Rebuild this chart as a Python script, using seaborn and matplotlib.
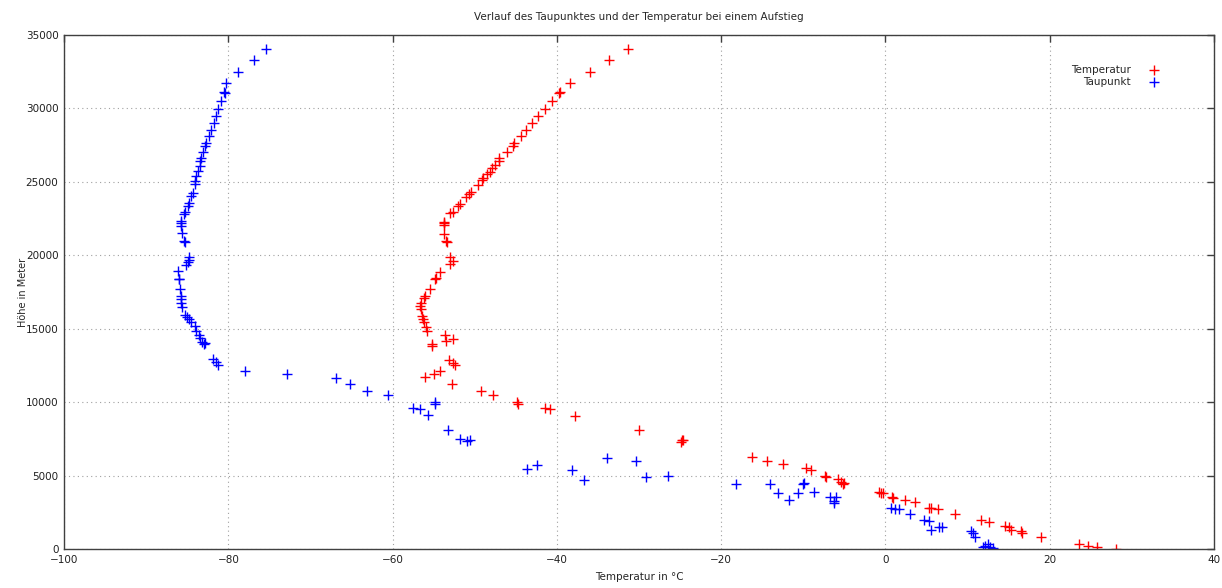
"""Verlauf von Taupunkt und Temperatur bei einem Ballonaufstieg."""

import matplotlib

matplotlib.use("Agg")

import matplotlib.pyplot as plt
import pandas as pd
import seaborn as sns

# Temperatur (rot): Hoehe in m, Temperatur in degC
TEMP_HEIGHT = [
    34045, 33296, 32479, 31750, 31137, 31049, 30477, 29960, 29456, 28979,
    28550, 28094, 27645, 27460, 27004, 26596, 26440, 26167, 25963, 25670,
    25555, 25234, 25125, 24785, 24308, 24192, 23968, 23532, 23396, 22987,
    22878, 22306, 22197, 22082, 21469, 21013, 20944, 19923, 19631, 19426,
    18861, 18473, 18405, 17744, 17247, 17132, 16791, 16587, 16382, 15885,
    15702, 15477, 15157, 14884, 14591, 14204, 14319, 13979, 13843, 12889,
    12706, 12569, 12161, 11936, 11711, 11235, 10779, 10506, 10009, 9893,
    9601, 9553, 9097, 8123, 7327, 7442, 7442, 6251, 6012, 5808,
    5556, 5400, 5011, 4943, 4766, 4562, 4426, 4494, 3902, 3854,
    3813, 3541, 3473, 3357, 3200, 2833, 2792, 2724, 2383, 1995,
    1838, 1607, 1539, 1314, 1266, 1089, 858, 361, 245, 136,
    54,
]
TEMP_VALUE = [
    -31.4, -33.6, -36.0, -38.4, -39.6, -39.7, -40.6, -41.5, -42.3, -43.0,
    -43.8, -44.4, -45.2, -45.4, -46.1, -47.0, -47.1, -47.5, -47.9, -48.2,
    -48.5, -49.0, -49.1, -49.6, -50.5, -50.7, -51.1, -51.8, -52.0, -52.7,
    -53.0, -53.8, -53.7, -53.7, -53.7, -53.5, -53.4, -53.0, -52.7, -53.0,
    -54.2, -54.7, -54.9, -55.4, -56.0, -56.2, -56.6, -56.7, -56.6, -56.4,
    -56.3, -56.2, -55.9, -55.8, -53.6, -53.5, -52.6, -55.2, -55.2, -53.1,
    -52.7, -52.4, -54.2, -55.0, -56.0, -52.8, -49.2, -47.8, -44.8, -44.7,
    -41.4, -40.8, -37.8, -30.0, -24.9, -24.8, -24.6, -16.3, -14.4, -12.5,
    -9.7, -9.1, -7.4, -7.2, -5.8, -5.4, -5.2, -5.0, -0.8, -0.5,
    -0.3, 0.8, 0.9, 2.4, 3.6, 5.3, 5.5, 6.4, 8.5, 11.6,
    12.6, 14.6, 15.0, 15.3, 16.5, 16.6, 18.9, 23.5, 24.6, 25.8,
    28.1,
]

# Taupunkt (blau): Hoehe in m, Taupunkt in degC
DEW_HEIGHT = [
    34045, 33296, 32479, 31750, 31137, 31049, 30477, 29960, 29456, 28979,
    28550, 28094, 27645, 27460, 27004, 26596, 26440, 26051, 25711, 25370,
    25030, 24874, 24240, 24009, 23560, 23396, 22987, 22830, 22333, 22197,
    22034, 21517, 21013, 20944, 19923, 19700, 19563, 19337, 18970, 18425,
    18384, 17744, 17247, 17023, 16750, 16519, 15933, 15797, 15661, 15477,
    15225, 14884, 14591, 14367, 14135, 13979, 14067, 12937, 12733, 12549,
    12140, 11916, 11684, 11235, 10779, 10506, 9601, 9533, 10009, 9893,
    9124, 8123, 7490, 7374, 7442, 5488, 5760, 5379, 4698, 6237,
    6012, 4902, 4970, 4412, 4426, 3813, 3357, 3854, 4426, 4494,
    3922, 3582, 3309, 3541, 3173, 2833, 2744, 2724, 2383, 1995,
    1927, 1314, 1498, 1539, 1246, 1089, 858, 225, 340, 177,
    68, 136,
]
DEW_VALUE = [
    -75.4, -76.9, -78.8, -80.3, -80.5, -80.4, -80.9, -81.2, -81.5, -81.8,
    -82.1, -82.4, -82.7, -82.9, -83.1, -83.3, -83.4, -83.5, -83.7, -83.9,
    -84.0, -84.1, -84.3, -84.5, -84.8, -84.9, -85.3, -85.4, -85.8, -85.8,
    -85.7, -85.6, -85.4, -85.3, -84.8, -84.8, -84.9, -85.1, -86.1, -86.0,
    -86.0, -85.9, -85.8, -85.8, -85.7, -85.6, -85.3, -85.0, -84.8, -84.6,
    -84.1, -83.9, -83.6, -83.4, -83.2, -83.0, -82.9, -81.9, -81.5, -81.3,
    -78.0, -72.9, -66.9, -65.2, -63.1, -60.6, -57.5, -56.7, -54.9, -54.9,
    -55.7, -53.3, -51.8, -51.0, -50.6, -43.7, -42.4, -38.2, -36.7, -33.9,
    -30.4, -29.1, -26.5, -18.2, -14.1, -13.1, -11.7, -10.7, -10.1, -9.9,
    -8.7, -6.7, -6.3, -6.0, -6.3, 0.7, 1.1, 1.6, 3.0, 4.7,
    5.3, 5.5, 6.5, 6.9, 10.4, 10.6, 10.9, 12.1, 12.5, 12.7,
    13.1, 11.9,
]

X_TICKS = [-100, -80, -60, -40, -20, 0, 20, 40]
Y_TICKS = [0, 5000, 10000, 15000, 20000, 25000, 30000, 35000]

sns.set_style("white")
plt.rcParams["font.family"] = ["DejaVu Sans"]

temp_df = pd.DataFrame({"temp": TEMP_VALUE, "height": TEMP_HEIGHT})
dew_df = pd.DataFrame({"temp": DEW_VALUE, "height": DEW_HEIGHT})

fig = plt.figure(figsize=(12.22, 5.88), dpi=100)
ax = fig.add_axes([0.0524, 0.0658, 0.9411, 0.8747])

sns.scatterplot(
    data=temp_df, x="temp", y="height", ax=ax, marker="+", color="#ff0000",
    s=48, linewidth=1.0, label="Temperatur",
)
sns.scatterplot(
    data=dew_df, x="temp", y="height", ax=ax, marker="+", color="#0000ff",
    s=48, linewidth=1.0, label="Taupunkt",
)

ax.set_xlim(-100, 40)
ax.set_ylim(0, 35000)
ax.set_xticks(X_TICKS)
ax.set_yticks(Y_TICKS)
ax.grid(True, linestyle=(0, (1, 3)), color="#a0a0a0", linewidth=0.8)
ax.set_axisbelow(True)

for spine in ax.spines.values():
    spine.set_visible(True)
    spine.set_color("#404040")
    spine.set_linewidth(1.0)

ax.tick_params(
    direction="in", length=5, width=1, color="#404040",
    top=True, right=True, labelsize=7.5, labelcolor="#202020", pad=4,
)

ax.set_title("Verlauf des Taupunktes und der Temperatur bei einem Aufstieg", fontsize=7.5, pad=11)
ax.set_xlabel("Temperatur in °C", fontsize=7.5, labelpad=5)
ax.set_ylabel("Höhe in Meter", fontsize=7)
# gnuplot setzt die y-Beschriftung dicht an die Zahlen
ax.yaxis.set_label_coords(-0.031, 0.5)

ax.legend(
    loc="upper right", bbox_to_anchor=(0.965, 0.96), frameon=False, markerfirst=False,
    fontsize=7.5, handletextpad=1.2, labelspacing=0.2,
)

fig.savefig("out.png", dpi=100)
